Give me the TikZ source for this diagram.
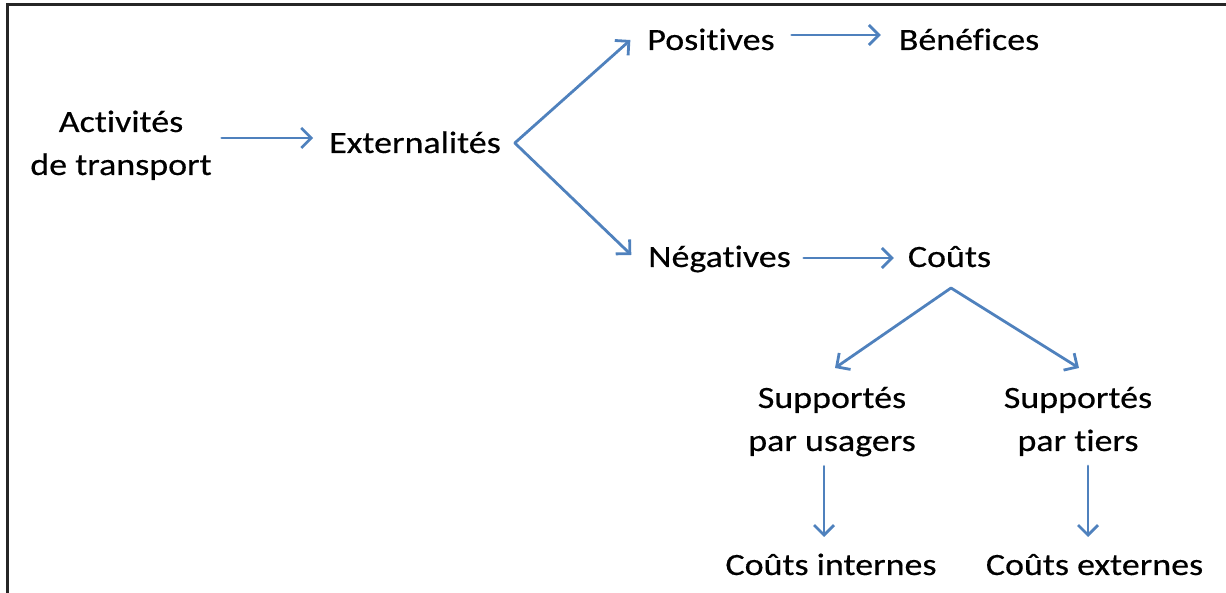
\documentclass[tikz,border=0pt]{standalone}
\usepackage{fontspec}
\setmainfont{Carlito}[FakeStretch=1.16,FakeBold=0.4,Ligatures={NoCommon}]
\usetikzlibrary{arrows.meta}
\definecolor{arrblue}{HTML}{4F81BD}
\tikzset{
  txt/.style={inner sep=0pt, outer sep=0pt, text height=30pt, text depth=0pt, anchor=base, font=\fontsize{31}{43}\selectfont, text=black},
  mtxt/.style={inner sep=0pt, outer sep=0pt, align=center, anchor=base, font=\fontsize{31}{43}\selectfont, text=black},
  arr/.style={draw=arrblue, line width=2.8pt, line cap=round, line join=round, -{Straight Barb[length=10pt,width=20pt,line width=2.8pt]}},
  frame/.style={draw=black!85, line width=3pt}
}
\begin{document}
\begin{tikzpicture}[x=1pt,y=1pt]
\useasboundingbox (0,0) rectangle (1226,593);
% frame (left and top edges)
\draw[frame] (7,0) -- (7,588) -- (1226,588);
% nodes (multi-line nodes: base = last line)
\node[mtxt] (act) at (121,418) {Activités\\de transport};
\node[txt] (ext) at (415,440) {Externalités};
\node[txt] (pos) at (711,543) {Positives};
\node[txt] (ben) at (969,543) {Bénéfices};
\node[txt] (neg) at (719.5,326) {Négatives};
\node[txt] (cou) at (949.5,326) {Coûts};
\node[mtxt] (su) at (832,142) {Supportés\\par usagers};
\node[mtxt] (st) at (1078,142) {Supportés\\par tiers};
\node[txt] (ci) at (831,18) {Coûts internes};
\node[txt] (ce) at (1094.5,18) {Coûts externes};
% connectors
\draw[arr, shorten <=10pt, shorten >=16pt] (act.east |- ext.west) -- (ext.west);
\coordinate (v1) at ([xshift=14pt,yshift=-5pt]ext.east);
\draw[arr] (v1) -- ([xshift=-17pt,yshift=-5pt]pos.west);
\draw[arr] (v1) -- ([xshift=-17pt,yshift=-3pt]neg.west);
\draw[arr, shorten <=17pt, shorten >=18pt] (pos.east) -- (ben.west);
\draw[arr, shorten <=13pt, shorten >=14pt] ([yshift=-6pt]neg.east) -- ([yshift=-6pt]cou.west);
\coordinate (v2) at ([xshift=1.5pt,yshift=-21pt]cou.south);
\draw[arr] (v2) -- ([xshift=3pt,yshift=83pt]su.base);
\draw[arr] (v2) -- ([xshift=1pt,yshift=83pt]st.base);
\coordinate (ciT) at ([xshift=-7pt,yshift=8pt]ci.north);
\coordinate (ceT) at ([xshift=-6.5pt,yshift=8pt]ce.north);
\draw[arr, shorten <=10pt] (ciT |- su.south) -- (ciT);
\draw[arr, shorten <=10pt] (ceT |- st.south) -- (ceT);
\end{tikzpicture}
\end{document}
